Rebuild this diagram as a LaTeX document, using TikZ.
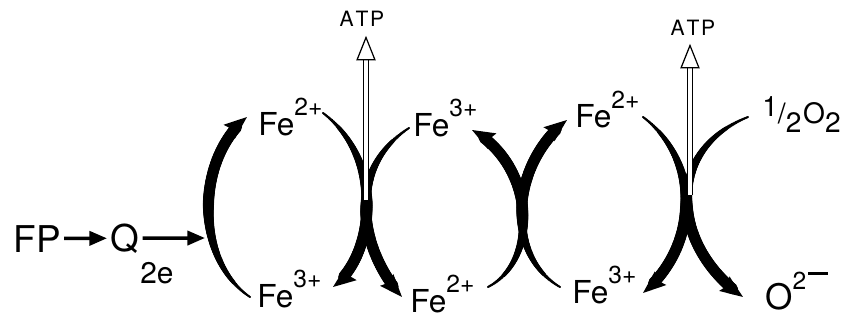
\documentclass[tikz,border=0pt]{standalone}
\usepackage{fontspec}
\setmainfont{TeX Gyre Heros}
\usetikzlibrary{arrows.meta,calc,decorations.markings}

% charge written high and large, as in the printed scheme
\newcommand\chg[1]{\raisebox{11pt}{\fontsize{14}{14}\selectfont #1}}

\tikzset{
  species/.style={inner sep=0pt, anchor=base west, font=\fontsize{18}{18}\selectfont},
  carrier/.style={inner sep=0pt, outer sep=2pt, anchor=base west, font=\fontsize{21}{21}\selectfont},
  atplbl/.style={inner sep=0pt, outer sep=5pt, anchor=base, font=\fontsize{12}{12}\selectfont},
  feed/.style={line width=2pt, -{Triangle[length=10pt,width=8pt]}},
  redox/.style={line width=1pt, -{Stealth[length=13pt,width=10pt,inset=2pt]},
    postaction={decorate},
    decoration={markings, mark=between positions 0 and -8pt step 0.5pt with {%
      \pgfmathsetmacro\taperr{min(0.6+5*\pgfkeysvalueof{/pgf/decoration/mark info/distance from start}/\pgfdecoratedpathlength,3.2)}%
      \fill (0,0) circle (\taperr pt);}}},
  atp/.style={double, double distance=2pt, line width=0.7pt, -{Triangle[open,length=14pt,width=11pt]}},
}

\begin{document}
\begin{tikzpicture}[x=0.02cm, y=-0.02cm]
    \useasboundingbox (0,0) rectangle (850,321);
    % carriers
    \node[carrier] (fp) at (10,252) {FP};
    \node[carrier] (q) at (107,251) {Q};
    \node[species, font=\fontsize{17}{17}\selectfont] (ee) at (140,283) {2e};
    \coordinate (join) at (205,238);

    % cytochromes and oxygen
    \node[species] (fe2tl) at (258,135) {Fe\chg{2+}};
    \node[species] (fe3bl) at (257,307) {Fe\chg{3+}};
    \node[species] (fe3tm) at (413,136) {Fe\chg{3+}};
    \node[species] (fe2bm) at (410,312) {Fe\chg{2+}};
    \node[species] (fe2tr) at (575,128) {Fe\chg{2+}};
    \node[species] (fe3br) at (572,303) {Fe\chg{3+}};
    \node[species, font=\fontsize{16}{16}\selectfont] (oxy) at (762,123)
        {\raisebox{3.5pt}{1}/\raisebox{-5.5pt}{2}\kern1pt O\raisebox{-5.5pt}{2}};
    \node[species, font=\fontsize{20}{20}\selectfont] (oxide) at (765,309)
        {O\chg{2\kern1pt\rule[0.6em]{0.8em}{0.1em}}};

    \node[atplbl] (atpa) at (362,27) {A\kern1pt T\kern1pt P};
    \node[atplbl] (atpb) at (693,35) {A\kern1pt T\kern1pt P};
    \coordinate (xa) at (366,200);
    \coordinate (xb) at (690,195);

    \draw[feed] (fp) -- (q);
    \draw[feed] (q) -- (join);

    % reduction / oxidation loops
    \draw[redox] ($(fe3bl.base west)+(-7,-10)$) .. controls +(-55,-37) and +(-52,43) .. ($(fe2tl.base west)+(-11,-18)$);
    \draw[redox] ($(fe2tl.base west)+(65,-22)$) .. controls +(62,47) and +(42,-32) .. ($(fe3bl.base west)+(76,-20)$);
    \draw[redox] ($(fe3tm.base west)+(-4,-8)$) .. controls +(-64,42) and +(-42,-47) .. ($(fe2bm.base west)+(-8,-15)$);
    \draw[redox] ($(fe2bm.base west)+(78,-25)$) .. controls +(52,-27) and +(63,35) .. ($(fe3tm.base west)+(59,-6)$);
    \draw[redox] ($(fe3br.base west)+(-12,-16)$) .. controls +(-55,-32) and +(-57,45) .. ($(fe2tr.base west)+(-8,-8)$);
    \draw[redox] ($(fe2tr.base west)+(68,-11)$) .. controls +(57,43) and +(57,-48) .. ($(fe3br.base west)+(71,-10)$);
    \draw[redox] ($(oxy.base west)+(-14,-6)$) .. controls +(-83,33) and +(-73,-52) .. ($(oxide.base west)+(-22,-12)$);

    % energy released
    \draw[atp] (xa) -- (xa |- atpa.south);
    \draw[atp] (xb) -- (xb |- atpb.south);
\end{tikzpicture}
\end{document}
